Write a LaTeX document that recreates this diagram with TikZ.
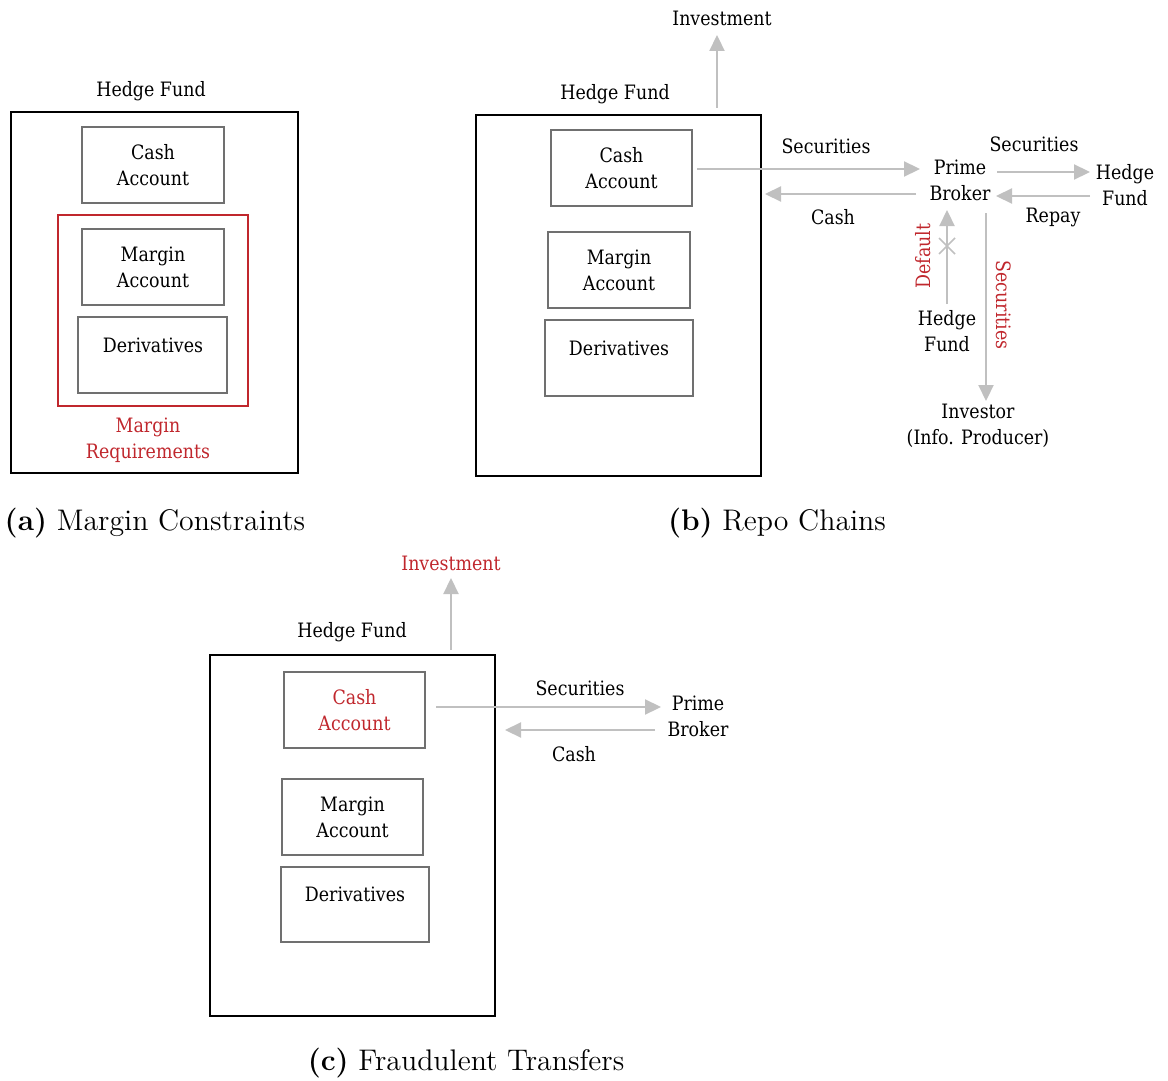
\documentclass[tikz,border=0pt]{standalone}
\usepackage{fontspec}
\usetikzlibrary{arrows.meta,fit}
\newfontfamily\diagfont[FakeStretch=0.88]{DejaVu Serif}
\definecolor{boxgray}{HTML}{707070}
\definecolor{flowgray}{HTML}{C0C0C0}
\definecolor{alertred}{HTML}{C0272D}
\begin{document}
\begin{tikzpicture}[x=0.5pt,y=-0.5pt,
  lbl/.style={font=\diagfont\fontsize{9.9}{13}\selectfont, align=center, inner sep=0pt},
  redlbl/.style={lbl, text=alertred},
  fundbox/.style={draw=black, line width=1pt, inner sep=0pt},
  acctbox/.style={draw=boxgray, line width=1pt, inner sep=0pt},
  reqbox/.style={draw=alertred, line width=1pt, inner sep=0pt},
  flow/.style={draw=flowgray, line width=1.1pt, -{Triangle[length=8pt,width=7.5pt]}},
  crossmark/.style={draw=flowgray, line width=0.8pt},
  subcap/.style={font=\fontsize{14.9}{18}\selectfont, inner sep=0pt}]
\useasboundingbox (0,0) rectangle (1168,1081);

% ---------------- (a) Margin constraints ----------------
\node[fundbox, fit={(11,112) (298,473)}] (aFund) {};
\node[lbl] (aFundL) at (151,91) {Hedge Fund};
\node[acctbox, fit={(82,127) (224,203)}] (aCash) {};
\node[lbl] (aCashL) at (aCash.center) {Cash\\Account};
\node[reqbox, fit={(58,215) (248,406)}] (aReq) {};
\node[acctbox, fit={(82,229) (224,305)}] (aMargin) {};
\node[lbl] (aMarginL) at (aMargin.center) {Margin\\Account};
\node[acctbox, fit={(78,317) (227,393)}] (aDeriv) {};
\node[lbl] (aDerivL) at (153,345) {Derivatives};
\node[redlbl] (aReqL) at (148,440) {Margin\\Requirements};
\node[subcap] (aCap) at (155,523) {\textbf{(a)}\ Margin Constraints};

% ---------------- (b) Repo chains ----------------
\node[fundbox, fit={(476,115) (761,476)}] (bFund) {};
\node[lbl] (bFundL) at (615,94) {Hedge Fund};
\node[acctbox, fit={(551,130) (692,206)}] (bCash) {};
\node[lbl] (bCashL) at (bCash.center) {Cash\\Account};
\node[acctbox, fit={(548,232) (690,308)}] (bMargin) {};
\node[lbl] (bMarginL) at (bMargin.center) {Margin\\Account};
\node[acctbox, fit={(545,320) (693,396)}] (bDeriv) {};
\node[lbl] (bDerivL) at (619,348) {Derivatives};

\node[lbl] (bInv) at (722,18) {Investment};
\node[lbl] (bPB) at (960,180) {Prime\\Broker};
\node[lbl] (bHF1) at (1125,185) {Hedge\\Fund};
\node[lbl] (bHF2) at (947,331) {Hedge\\Fund};
\node[lbl] (bInvestor) at (978,426) {Investor\\(Info. Producer)};

\coordinate (bInvS) at (717,108);
\coordinate (bInvE) at (717,35);
\draw[flow] (bInvS) -- (bInvE);

\coordinate (bSecS) at (697,169);
\coordinate (bSecE) at (920,169);
\draw[flow] (bSecS) -- (bSecE);
\node[lbl] (bSecL) at (826,146) {Securities};

\coordinate (bCashS) at (916,194);
\coordinate (bCashE) at (765,194);
\draw[flow] (bCashS) -- (bCashE);
\node[lbl] (bCashFL) at (833,217) {Cash};

\coordinate (bSec2S) at (997,172);
\coordinate (bSec2E) at (1090,172);
\draw[flow] (bSec2S) -- (bSec2E);
\node[lbl] (bSec2L) at (1034,144) {Securities};

\coordinate (bRepS) at (1090,196);
\coordinate (bRepE) at (996,196);
\draw[flow] (bRepS) -- (bRepE);
\node[lbl] (bRepL) at (1053,217) {Repay};

\coordinate (bDefS) at (947,304);
\coordinate (bDefE) at (947,210);
\draw[flow] (bDefS) -- (bDefE);
\draw[crossmark] (939,238) -- (955,254) (955,238) -- (939,254);
\node[redlbl, rotate=90] (bDefL) at (923,256) {Default};

\coordinate (bSec3S) at (986,213);
\coordinate (bSec3E) at (986,401);
\draw[flow] (bSec3S) -- (bSec3E);
\node[redlbl, rotate=-90] (bSec3L) at (1004,305) {Securities};

\node[subcap] (bCap) at (777,523) {\textbf{(b)}\ Repo Chains};

% ---------------- (c) Fraudulent transfers ----------------
\node[fundbox, fit={(210,655) (495,1016)}] (cFund) {};
\node[lbl] (cFundL) at (352,632) {Hedge Fund};
\node[acctbox, fit={(284,672) (425,748)}] (cCash) {};
\node[redlbl] (cCashL) at (cCash.center) {Cash\\Account};
\node[acctbox, fit={(282,779) (423,855)}] (cMargin) {};
\node[lbl] (cMarginL) at (cMargin.center) {Margin\\Account};
\node[acctbox, fit={(281,867) (429,942)}] (cDeriv) {};
\node[lbl] (cDerivL) at (355,894) {Derivatives};

\node[redlbl] (cInv) at (451,563) {Investment};
\node[lbl] (cPB) at (698,716) {Prime\\Broker};

\coordinate (cInvS) at (451,650);
\coordinate (cInvE) at (451,578);
\draw[flow] (cInvS) -- (cInvE);

\coordinate (cSecS) at (436,707);
\coordinate (cSecE) at (661,707);
\draw[flow] (cSecS) -- (cSecE);
\node[lbl] (cSecL) at (580,688) {Securities};

\coordinate (cCashS) at (655,730);
\coordinate (cCashE) at (505,730);
\draw[flow] (cCashS) -- (cCashE);
\node[lbl] (cCashFL) at (574,754) {Cash};

\node[subcap] (cCap) at (466,1063) {\textbf{(c)}\ Fraudulent Transfers};
\end{tikzpicture}
\end{document}
